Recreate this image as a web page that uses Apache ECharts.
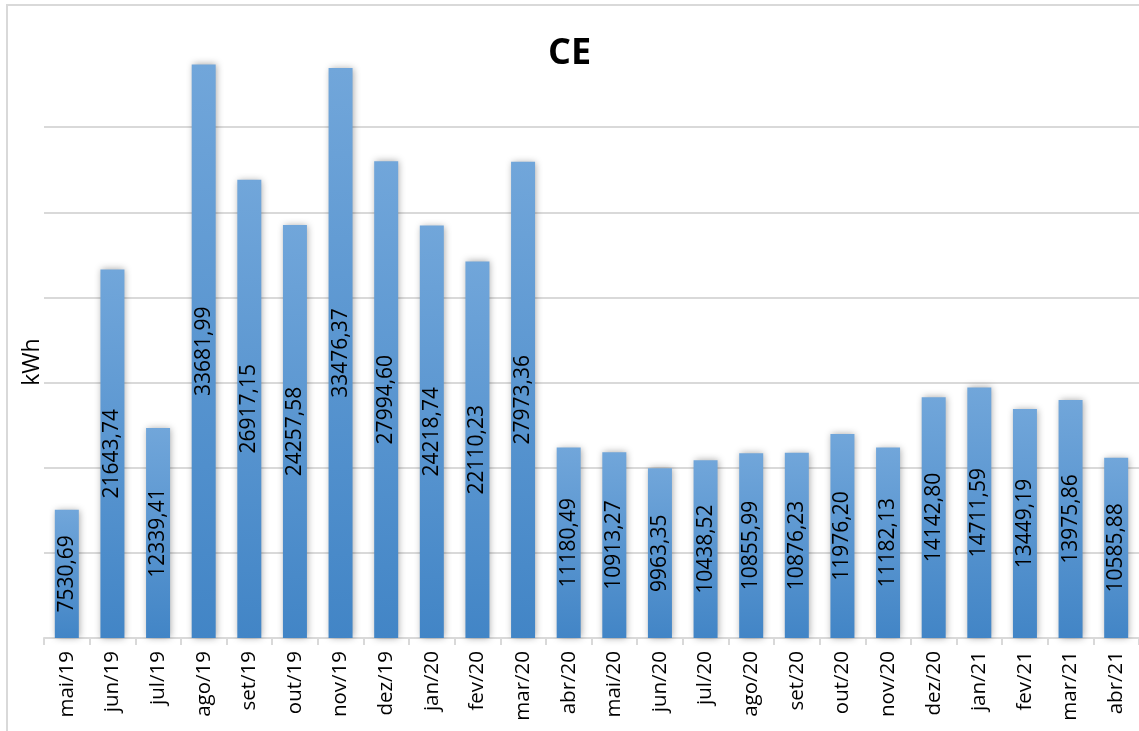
<!DOCTYPE html>
<html>
<head>
<meta charset="utf-8">
<script src="https://cdn.jsdelivr.net/npm/echarts@6/dist/echarts.min.js"></script>
<style>
  html, body { margin: 0; padding: 0; background: #fff; }
  #chart { width: 1139px; height: 731px; }
</style>
</head>
<body>
<div id="chart"></div>
<script>
// Monthly consumption (kWh), May 2019 – April 2021
const months = ['mai/19','jun/19','jul/19','ago/19','set/19','out/19','nov/19','dez/19',
  'jan/20','fev/20','mar/20','abr/20','mai/20','jun/20','jul/20','ago/20','set/20',
  'out/20','nov/20','dez/20','jan/21','fev/21','mar/21','abr/21'];
const consumption = [7530.69, 21643.74, 12339.41, 33681.99, 26917.15, 24257.58, 33476.37,
  27994.60, 24218.74, 22110.23, 27973.36, 11180.49, 10913.27, 9963.35, 10438.52, 10855.99,
  10876.23, 11976.20, 11182.13, 14142.80, 14711.59, 13449.19, 13975.86, 10585.88];

const FONT = '"Open Sans", "Liberation Sans", sans-serif';
const fmt = v => v.toFixed(2).replace('.', ',');

const chart = echarts.init(document.getElementById('chart'), null, { renderer: 'canvas' });
chart.setOption({
  backgroundColor: '#ffffff',
  animation: false,
  graphic: [{
    type: 'rect',
    shape: { x: 7, y: 5, width: 1160, height: 760 },
    style: { fill: 'none', stroke: '#d9d9d9', lineWidth: 2 },
    silent: true
  }],
  title: {
    text: 'CE',
    left: 'center',
    top: 31,
    textStyle: { fontFamily: FONT, fontWeight: 'bold', fontSize: 36, color: '#000' }
  },
  grid: { left: 44, top: 42, width: 1097, bottom: 93, containLabel: false },
  xAxis: {
    type: 'category',
    data: months,
    boundaryGap: true,
    axisLine: { lineStyle: { color: '#d9d9d9', width: 2 } },
    axisTick: { show: true, length: 7, lineStyle: { color: '#d9d9d9', width: 2 } },
    axisLabel: {
      rotate: 90, margin: 13, interval: 0,
      fontFamily: FONT, fontSize: 20.5, color: '#000'
    }
  },
  yAxis: {
    type: 'value',
    min: 0, max: 35000, interval: 5000,
    name: 'kWh',
    nameLocation: 'middle',
    nameRotate: 90,
    nameGap: 0,
    nameTextStyle: { fontFamily: FONT, fontSize: 23, color: '#000', padding: [0, 44, 0, 0] },
    axisLine: { show: false },
    axisTick: { show: false },
    axisLabel: { show: false },
    splitLine: {
      show: true,
      lineStyle: {
        color: ['#d9d9d9','#d9d9d9','#d9d9d9','#d9d9d9','#d9d9d9','#d9d9d9','#d9d9d9','rgba(0,0,0,0)'],
        width: 2
      }
    }
  },
  series: [{
    type: 'bar',
    data: consumption,
    barWidth: 24,
    itemStyle: {
      color: new echarts.graphic.LinearGradient(0, 0, 0, 1, [
        { offset: 0, color: '#71a6da' },
        { offset: 1, color: '#4285c6' }
      ]),
      shadowColor: 'rgba(0,0,0,0.35)',
      shadowBlur: 7,
      shadowOffsetX: 1,
      shadowOffsetY: 0
    },
    label: {
      show: true,
      position: 'inside',
      rotate: 90,
      fontFamily: FONT,
      fontSize: 21,
      color: '#000',
      formatter: p => fmt(p.value)
    }
  }]
});
</script>
</body>
</html>
